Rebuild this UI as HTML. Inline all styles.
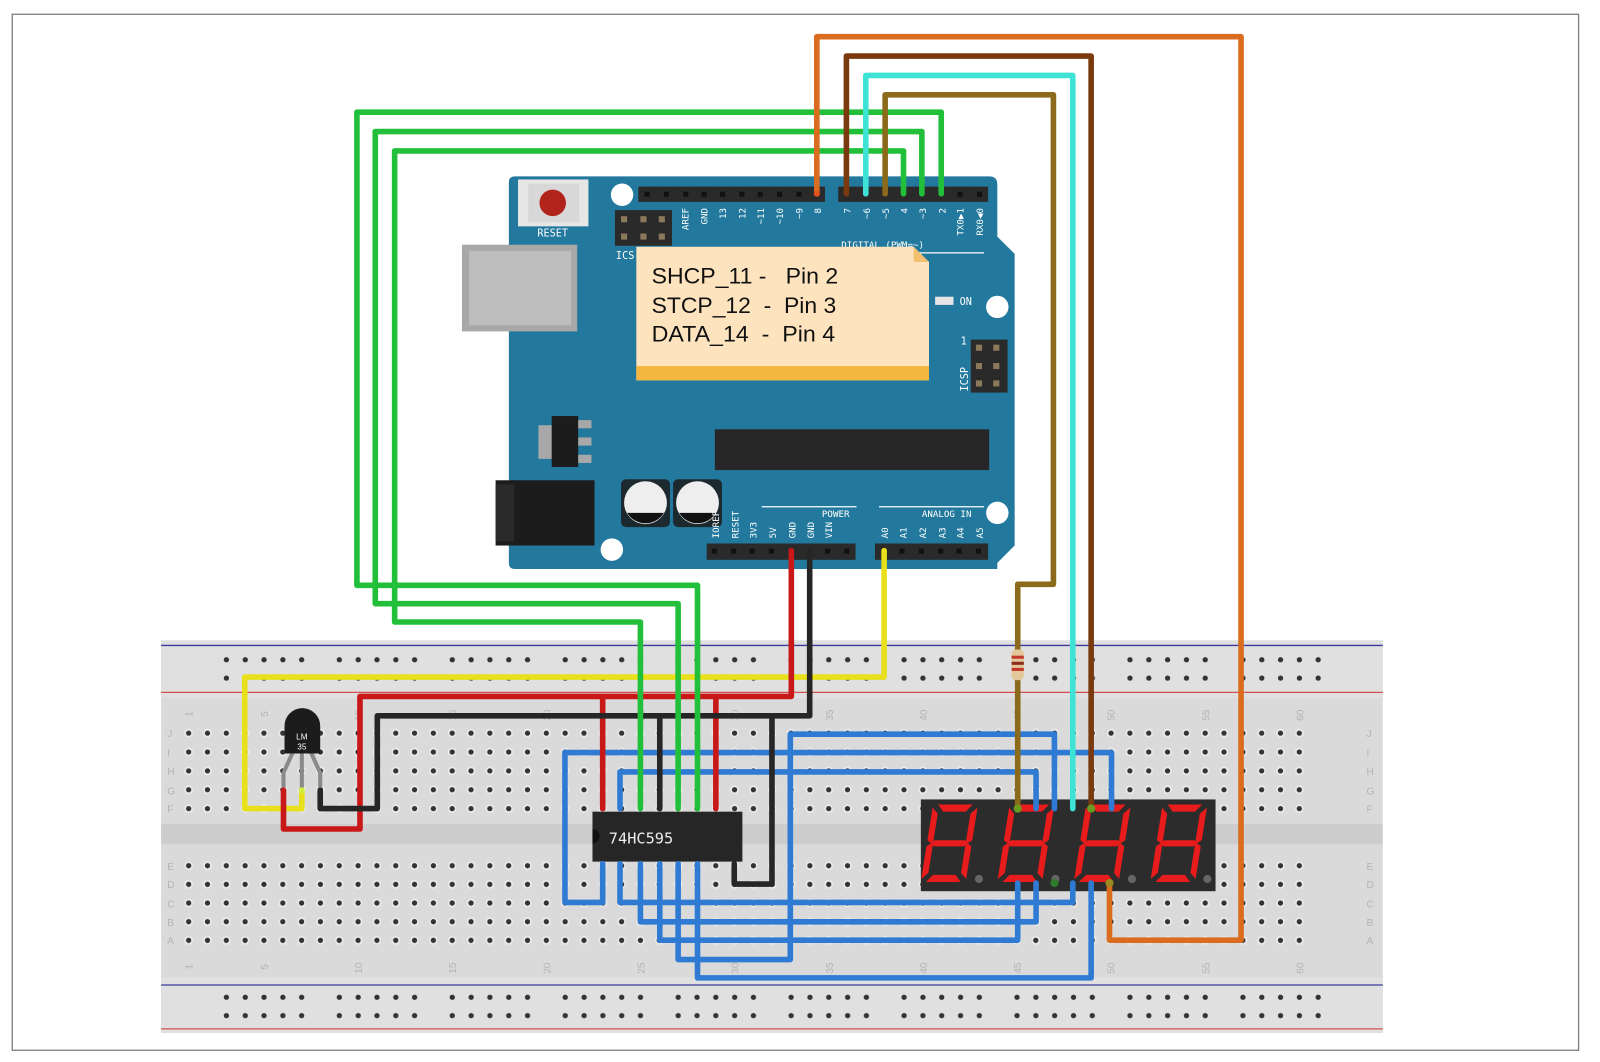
<!DOCTYPE html>
<html><head><meta charset="utf-8"><style>html,body{margin:0;padding:0;background:#fff;}svg{display:block;}</style></head>
<body>
<svg width="1600" height="1062" viewBox="0 0 1569 1041.5" preserveAspectRatio="none" xmlns="http://www.w3.org/2000/svg" font-family="Liberation Sans, sans-serif">
<defs>
<pattern id="holes" x="175.77" y="709.75" width="18.46" height="18.5" patternUnits="userSpaceOnUse">
<circle cx="9.23" cy="9.25" r="4.2" fill="#ececec"/><circle cx="9.23" cy="9.25" r="2.6" fill="#333"/></pattern>
<pattern id="holes2" x="175.77" y="839.85" width="18.46" height="18.3" patternUnits="userSpaceOnUse">
<circle cx="9.23" cy="9.15" r="4.2" fill="#ececec"/><circle cx="9.23" cy="9.15" r="2.6" fill="#333"/></pattern>
<pattern id="rail" x="212.8" y="638" width="110.76" height="36" patternUnits="userSpaceOnUse">
<g fill="#333"><circle cx="9.2" cy="9" r="2.6"/><circle cx="27.7" cy="9" r="2.6"/><circle cx="46.1" cy="9" r="2.6"/><circle cx="64.6" cy="9" r="2.6"/><circle cx="83" cy="9" r="2.6"/>
<circle cx="9.2" cy="27" r="2.6"/><circle cx="27.7" cy="27" r="2.6"/><circle cx="46.1" cy="27" r="2.6"/><circle cx="64.6" cy="27" r="2.6"/><circle cx="83" cy="27" r="2.6"/></g></pattern>
<pattern id="rail2" x="212.8" y="969" width="110.76" height="36" patternUnits="userSpaceOnUse">
<g fill="#333"><circle cx="9.2" cy="9" r="2.6"/><circle cx="27.7" cy="9" r="2.6"/><circle cx="46.1" cy="9" r="2.6"/><circle cx="64.6" cy="9" r="2.6"/><circle cx="83" cy="9" r="2.6"/>
<circle cx="9.2" cy="27" r="2.6"/><circle cx="27.7" cy="27" r="2.6"/><circle cx="46.1" cy="27" r="2.6"/><circle cx="64.6" cy="27" r="2.6"/><circle cx="83" cy="27" r="2.6"/></g></pattern>
<g id="dig" fill="#e81c1c">
<polygon points="5,0 39,0 33,7 11,7"/><polygon points="38,9 44,3 44,35 40,38 38,36"/><polygon points="38,40 40,38 44,41 44,73 38,67"/>
<polygon points="11,69 33,69 39,76 5,76"/><polygon points="0,41 4,38 6,40 6,67 0,73"/><polygon points="0,3 6,9 6,36 4,38 0,35"/>
<polygon points="7,35 37,35 40,38 37,41 7,41 4,38"/></g>
</defs>
<rect x="12" y="14" width="1536" height="1016" fill="#fff" stroke="#808080" stroke-width="1.3"/>

<rect x="158" y="628" width="1198" height="385" fill="#dadada"/>
<rect x="158" y="628" width="1198" height="57" fill="#e0e0e0"/>
<rect x="158" y="958" width="1198" height="55" fill="#e0e0e0"/>
<rect x="158" y="808" width="1198" height="20" fill="#cdcdcd"/>
<line x1="158" y1="633" x2="1356" y2="633" stroke="#3a3a9a" stroke-width="1.3"/>
<line x1="158" y1="679" x2="1356" y2="679" stroke="#d05050" stroke-width="1.3"/>
<line x1="158" y1="966" x2="1356" y2="966" stroke="#3a3a9a" stroke-width="1.3"/>
<line x1="158" y1="1009" x2="1356" y2="1009" stroke="#d05050" stroke-width="1.3"/>
<rect x="212.8" y="638" width="1107.6" height="36" fill="url(#rail)"/>
<rect x="212.8" y="969" width="1107.6" height="36" fill="url(#rail2)"/>
<rect x="175.77" y="709.75" width="1107.6" height="92.5" fill="url(#holes)"/>
<rect x="175.77" y="839.85" width="1107.6" height="91.5" fill="url(#holes2)"/>
<g fill="#b4b4b4" font-size="10">
<text transform="translate(189,703) rotate(-90)">1</text><text transform="translate(263,703) rotate(-90)">5</text>
<text transform="translate(355,707) rotate(-90)">10</text><text transform="translate(447,707) rotate(-90)">15</text>
<text transform="translate(540,707) rotate(-90)">20</text><text transform="translate(632,707) rotate(-90)">25</text>
<text transform="translate(724,707) rotate(-90)">30</text><text transform="translate(817,707) rotate(-90)">35</text>
<text transform="translate(909,707) rotate(-90)">40</text><text transform="translate(1001,707) rotate(-90)">45</text>
<text transform="translate(1093,707) rotate(-90)">50</text><text transform="translate(1186,707) rotate(-90)">55</text>
<text transform="translate(1278,707) rotate(-90)">60</text>
<text transform="translate(189,951) rotate(-90)">1</text><text transform="translate(263,951) rotate(-90)">5</text>
<text transform="translate(355,955) rotate(-90)">10</text><text transform="translate(447,955) rotate(-90)">15</text>
<text transform="translate(540,955) rotate(-90)">20</text><text transform="translate(632,955) rotate(-90)">25</text>
<text transform="translate(724,955) rotate(-90)">30</text><text transform="translate(817,955) rotate(-90)">35</text>
<text transform="translate(909,955) rotate(-90)">40</text><text transform="translate(1001,955) rotate(-90)">45</text>
<text transform="translate(1093,955) rotate(-90)">50</text><text transform="translate(1186,955) rotate(-90)">55</text>
<text transform="translate(1278,955) rotate(-90)">60</text>
<text x="164" y="723">J</text><text x="164" y="742">I</text><text x="164" y="760">H</text><text x="164" y="779">G</text><text x="164" y="797">F</text>
<text x="164" y="853">E</text><text x="164" y="871">D</text><text x="164" y="890">C</text><text x="164" y="908">B</text><text x="164" y="926">A</text>
<text x="1340" y="723">J</text><text x="1340" y="742">I</text><text x="1340" y="760">H</text><text x="1340" y="779">G</text><text x="1340" y="797">F</text>
<text x="1340" y="853">E</text><text x="1340" y="871">D</text><text x="1340" y="890">C</text><text x="1340" y="908">B</text><text x="1340" y="926">A</text>
</g>

<path d="M505,173 H970 Q978,173 978,181 V232 L995,249 V535 L978,552 V558 H505 Q499,558 499,552 V179 Q499,173 505,173 Z" fill="#23799d"/>
<rect x="453" y="240" width="113" height="85" fill="#a8a8a8"/>
<rect x="460" y="246" width="100" height="73" fill="#bdbdbd"/>
<rect x="486" y="471" width="97" height="64" fill="#1c1c1c"/>
<rect x="486" y="475" width="18" height="56" fill="#2a2a2a"/>
<rect x="508" y="176" width="69" height="46" fill="#e6e6e6"/>
<rect x="518" y="180" width="50" height="38" fill="#d8d8d8"/>
<circle cx="542" cy="199" r="13" fill="#b0241c"/>
<text x="542" y="232" font-size="10" fill="#fff" text-anchor="middle" font-family="DejaVu Sans Mono, monospace">RESET</text>
<rect x="603" y="206" width="56" height="35" fill="#2a2a2a"/>
<g fill="#8a7a5a"><rect x="609" y="212" width="6" height="6"/><rect x="628" y="212" width="6" height="6"/><rect x="646" y="212" width="6" height="6"/>
<rect x="609" y="229" width="6" height="6"/><rect x="628" y="229" width="6" height="6"/><rect x="646" y="229" width="6" height="6"/></g>
<text x="604" y="254" font-size="10" fill="#fff" font-family="DejaVu Sans Mono, monospace">ICS</text>
<circle cx="610" cy="191" r="11" fill="#fff"/>
<circle cx="978" cy="301" r="11" fill="#fff"/>
<circle cx="978" cy="503" r="11" fill="#fff"/>
<circle cx="600" cy="539" r="11" fill="#fff"/>
<rect x="626" y="183" width="183" height="15" fill="#2a2a2a"/>
<rect x="822" y="183" width="147" height="15" fill="#2a2a2a"/>
<g fill="#111"><rect x="632" y="188" width="5" height="5"/><rect x="651" y="188" width="5" height="5"/><rect x="670" y="188" width="5" height="5"/><rect x="688" y="188" width="5" height="5"/><rect x="706" y="188" width="5" height="5"/><rect x="725" y="188" width="5" height="5"/><rect x="743" y="188" width="5" height="5"/><rect x="762" y="188" width="5" height="5"/><rect x="781" y="188" width="5" height="5"/>
<rect x="939" y="188" width="5" height="5"/><rect x="958" y="188" width="5" height="5"/></g>
<g fill="#fff" font-size="9" font-family="DejaVu Sans Mono, monospace" text-anchor="end">
<text transform="translate(675,204) rotate(-90)">AREF</text><text transform="translate(694,204) rotate(-90)">GND</text>
<text transform="translate(712,204) rotate(-90)">13</text><text transform="translate(731,204) rotate(-90)">12</text>
<text transform="translate(749,204) rotate(-90)">~11</text><text transform="translate(768,204) rotate(-90)">~10</text>
<text transform="translate(787,204) rotate(-90)">~9</text><text transform="translate(805,204) rotate(-90)">8</text>
<text transform="translate(834,204) rotate(-90)">7</text><text transform="translate(853,204) rotate(-90)">~6</text>
<text transform="translate(872,204) rotate(-90)">~5</text><text transform="translate(890,204) rotate(-90)">4</text>
<text transform="translate(908,204) rotate(-90)">~3</text><text transform="translate(927,204) rotate(-90)">2</text>
<text transform="translate(945,204) rotate(-90)">TX0▶1</text><text transform="translate(964,204) rotate(-90)">RX0◀0</text>
</g>
<text x="825" y="243" font-size="9" fill="#fff" font-family="DejaVu Sans Mono, monospace">DIGITAL (PWM=~)</text>
<line x1="825" y1="248" x2="965" y2="248" stroke="#fff" stroke-width="1.2"/>
<rect x="917" y="291" width="18" height="8" fill="#e6e6e6"/>
<text x="941" y="299" font-size="10" fill="#fff" font-family="DejaVu Sans Mono, monospace">ON</text>
<rect x="952" y="333" width="36" height="52" fill="#2a2a2a"/>
<g fill="#8a7a5a"><rect x="957" y="338" width="6" height="6"/><rect x="974" y="338" width="6" height="6"/><rect x="957" y="356" width="6" height="6"/><rect x="974" y="356" width="6" height="6"/><rect x="957" y="373" width="6" height="6"/><rect x="974" y="373" width="6" height="6"/></g>
<text x="942" y="338" font-size="10" fill="#fff" font-family="DejaVu Sans Mono, monospace">1</text>
<text transform="translate(949,384) rotate(-90)" font-size="10" fill="#fff" font-family="DejaVu Sans Mono, monospace">ICSP</text>
<rect x="528" y="417" width="14" height="33" fill="#a8a8a8"/>
<rect x="541" y="408" width="26" height="50" fill="#1c1c1c"/>
<g fill="#a8a8a8"><rect x="567" y="412" width="13" height="8"/><rect x="567" y="429" width="13" height="8"/><rect x="567" y="446" width="13" height="8"/></g>
<rect x="701" y="421" width="269" height="40" fill="#262626"/>
<rect x="609" y="470" width="48" height="47" rx="5" fill="#1c2a30"/>
<rect x="660" y="470" width="48" height="47" rx="5" fill="#1c2a30"/>
<circle cx="633" cy="493" r="21" fill="#eeeeee"/><path d="M615,503 A21,21 0 0 0 651,503 Z" fill="#111"/>
<circle cx="684" cy="493" r="21" fill="#eeeeee"/><path d="M666,503 A21,21 0 0 0 702,503 Z" fill="#111"/>
<rect x="693" y="533" width="146" height="16" fill="#2a2a2a"/>
<rect x="858" y="533" width="111" height="16" fill="#2a2a2a"/>
<g fill="#111"><rect x="698" y="538" width="5" height="5"/><rect x="717" y="538" width="5" height="5"/><rect x="735" y="538" width="5" height="5"/><rect x="754" y="538" width="5" height="5"/><rect x="809" y="538" width="5" height="5"/><rect x="828" y="538" width="5" height="5"/>
<rect x="882" y="538" width="5" height="5"/><rect x="901" y="538" width="5" height="5"/><rect x="920" y="538" width="5" height="5"/><rect x="938" y="538" width="5" height="5"/><rect x="957" y="538" width="5" height="5"/></g>
<g fill="#fff" font-size="9" font-family="DejaVu Sans Mono, monospace">
<text transform="translate(705,528) rotate(-90)">IOREF</text><text transform="translate(724,528) rotate(-90)">RESET</text>
<text transform="translate(742,528) rotate(-90)">3V3</text><text transform="translate(761,528) rotate(-90)">5V</text>
<text transform="translate(780,528) rotate(-90)">GND</text><text transform="translate(798,528) rotate(-90)">GND</text>
<text transform="translate(816,528) rotate(-90)">VIN</text>
<text transform="translate(871,528) rotate(-90)">A0</text><text transform="translate(889,528) rotate(-90)">A1</text>
<text transform="translate(908,528) rotate(-90)">A2</text><text transform="translate(927,528) rotate(-90)">A3</text>
<text transform="translate(945,528) rotate(-90)">A4</text><text transform="translate(964,528) rotate(-90)">A5</text>
<text x="806" y="507">POWER</text><text x="904" y="507">ANALOG IN</text>
</g>
<line x1="747" y1="497" x2="840" y2="497" stroke="#fff" stroke-width="1.2"/>
<line x1="862" y1="497" x2="965" y2="497" stroke="#fff" stroke-width="1.2"/>

<polygon points="624,242 896,242 911,257 911,373 624,373" fill="#fde4bf"/>
<polygon points="896,242 911,257 896,257" fill="#f3c070"/>
<rect x="624" y="359" width="287" height="14" fill="#f4b63f"/>
<g font-size="22" fill="#111">
<text x="639" y="278" textLength="183" lengthAdjust="spacingAndGlyphs">SHCP_11 -&#160;&#160; Pin 2</text>
<text x="639" y="307" textLength="181" lengthAdjust="spacingAndGlyphs">STCP_12&#160; -&#160; Pin 3</text>
<text x="639" y="335" textLength="180" lengthAdjust="spacingAndGlyphs">DATA_14&#160; -&#160; Pin 4</text>
</g>

<rect x="903" y="784" width="289" height="90" fill="#2c2c2c"/>
<use href="#dig" transform="translate(915,789) skewX(-9)"/>
<use href="#dig" transform="translate(990,789) skewX(-9)"/>
<use href="#dig" transform="translate(1065,789) skewX(-9)"/>
<use href="#dig" transform="translate(1140,789) skewX(-9)"/>
<g fill="#666"><circle cx="960" cy="862" r="4"/><circle cx="1035" cy="862" r="4"/><circle cx="1110" cy="862" r="4"/><circle cx="1184" cy="862" r="4"/></g>

<rect x="581" y="796" width="147" height="49" fill="#262626"/>
<path d="M581,813 A6,6 0 0 1 581,827 Z" fill="#111"/>
<text x="597" y="827" font-size="15" fill="#eee" font-family="DejaVu Sans Mono, monospace">74HC595</text>

<g stroke="#8a8a8a" stroke-width="4" fill="none"><polyline points="287,738 278,758 278,775"/><line x1="296" y1="738" x2="296" y2="775"/><polyline points="305,738 314,758 314,775"/></g>
<path d="M279,739 V712 A17.5,17.5 0 0 1 314,712 V739 Z" fill="#1c1c1c"/>
<text x="296" y="725" font-size="8" fill="#fff" text-anchor="middle">LM</text>
<text x="296" y="735" font-size="8" fill="#fff" text-anchor="middle">35</text>

<g fill="none" stroke-width="5.5" stroke-linejoin="round" stroke-linecap="round">
<g stroke="#2f7bd4">
<polyline points="665,847 665,941 775,941 775,720 1034,720 1034,793"/>
<polyline points="591,847 591,885 554,885 554,738 1090,738 1090,793"/>
<polyline points="608,793 608,757 1016,757 1016,793"/>
<polyline points="608,847 608,885 1052,885 1052,866"/>
<polyline points="628,847 628,904 1016,904 1016,866"/>
<polyline points="647,847 647,922 998,922 998,866"/>
<polyline points="684,847 684,959 1070,959 1070,866"/>
</g>
<polyline stroke="#e8e01a" points="867,540 867,664 240,664 240,793 296,793 296,775"/>
<polyline stroke="#c81818" points="776,540 776,683 353,683 353,813 278,813 278,775"/>
<line stroke="#c81818" x1="591" y1="683" x2="591" y2="793"/>
<line stroke="#c81818" x1="702" y1="683" x2="702" y2="793"/>
<polyline stroke="#262626" points="794,540 794,702 370,702 370,793 314,793 314,775"/>
<line stroke="#262626" x1="647" y1="702" x2="647" y2="793"/>
<polyline stroke="#262626" points="757,702 757,867 720,867 720,847"/>
<g stroke="#22c03a">
<polyline points="923,190 923,110 350,110 350,574 684,574 684,793"/>
<polyline points="904,190 904,129 368,129 368,592 665,592 665,793"/>
<polyline points="886,190 886,148 387,148 387,610 628,610 628,793"/>
</g>
<polyline stroke="#8c6a1c" points="868,190 868,93 1033,93 1033,573 998,573 998,793"/>
<polyline stroke="#3fe3d6" points="849,190 849,74 1052,74 1052,793"/>
<polyline stroke="#7a3a0e" points="830,190 830,55 1070,55 1070,793"/>
<polyline stroke="#d96c1e" points="801,190 801,36 1217,36 1217,922 1088,922 1088,866"/>
</g>
<rect x="992" y="637" width="12" height="30" rx="4" fill="#e3c79a"/>
<rect x="992" y="643" width="12" height="3" fill="#c0392b"/>
<rect x="992" y="649" width="12" height="3" fill="#8b2a1a"/>
<rect x="992" y="655" width="12" height="3" fill="#c0392b"/>
<g fill="#6a9a20"><circle cx="801" cy="190" r="3" fill="#e0501c"/><circle cx="998" cy="793" r="4"/><circle cx="1070" cy="793" r="4"/><circle cx="1034" cy="866" r="4" fill="#2f7a2a"/><circle cx="1088" cy="866" r="4" fill="#9a8a20"/><circle cx="296" cy="775" r="3" fill="#d0f040"/></g>
</svg>
</body></html>
